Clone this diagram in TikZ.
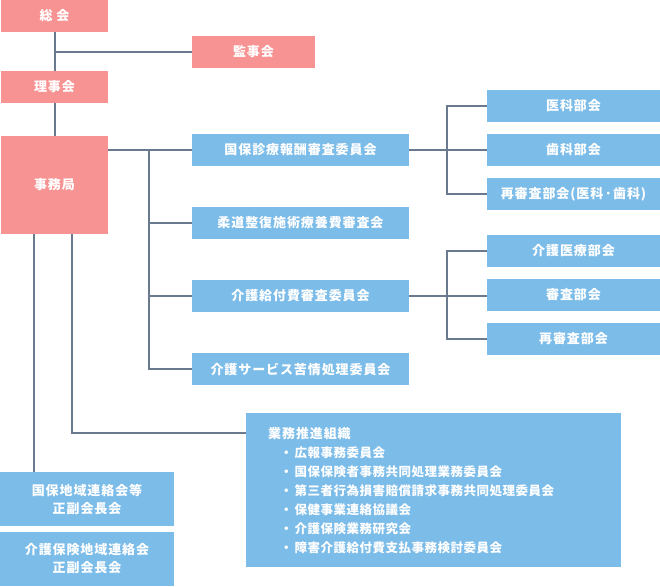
\documentclass[tikz,border=0pt]{standalone}
\usepackage{fontspec}
\newfontfamily\jpfont[LetterSpace=7]{Noto Sans CJK JP}
\newfontfamily\jplist[LetterSpace=4]{Noto Sans CJK JP}

\definecolor{boxpink}{HTML}{F79392}
\definecolor{boxblue}{HTML}{7CBCE9}
\definecolor{linegray}{HTML}{6A7A8E}

\tikzset{
  orgbox/.style={inner sep=0pt, text=white, align=center,
    font=\jpfont\bfseries\fontsize{13}{18}\selectfont},
  pinkbox/.style={orgbox, fill=boxpink, minimum width=107pt, minimum height=32pt},
  bluebox/.style={orgbox, fill=boxblue},
  midbox/.style={bluebox, minimum width=217pt, minimum height=32pt},
  subbox/.style={bluebox, minimum width=173pt, minimum height=32pt},
  areabox/.style={bluebox, minimum width=174pt, minimum height=54pt},
  link/.style={draw=linegray, line width=2pt},
}
\newcommand{\gyomuitem}[1]{\hspace*{12pt}{\jplist\bfseries\fontsize{12.5}{19}\selectfont ・\hspace{2pt}#1}}

\begin{document}
\begin{tikzpicture}[x=1pt, y=-1pt]
    \useasboundingbox (0,0) rectangle (660,586);

    % Top of the organisation
    \node[pinkbox] (soukai) at (54.5,16) {総 会};
    \node[pinkbox, minimum width=123pt] (kanjikai) at (253.5,52) {監事会};
    \node[pinkbox] (rijikai) at (54.5,87) {理事会};
    \node[pinkbox, minimum height=98pt] (jimukyoku) at (54.5,185) {事務局};

    % Committees
    \node[midbox] (kokuho) at (300.5,150) {国保診療報酬審査委員会};
    \node[midbox] (judo) at (300.5,223) {柔道整復施術療養費審査会};
    \node[midbox] (kaigokyufu) at (300.5,296) {介護給付費審査委員会};
    \node[midbox] (kaigoservice) at (300.5,369) {介護サービス苦情処理委員会};

    % Sections
    \node[subbox] (ika) at (573.5,106) {医科部会};
    \node[subbox] (shika) at (573.5,150) {歯科部会};
    \node[subbox] (saishinsa) at (573.5,194) {再審査部会(医科·歯科)};
    \node[subbox] (kaigoiryo) at (573.5,251) {介護医療部会};
    \node[subbox] (shinsa) at (573.5,295) {審査部会};
    \node[subbox] (saishinsab) at (573.5,339) {再審査部会};

    % Regional meetings and promotion bodies
    \node[areabox] (renraku) at (87,499) {国保地域連絡会等\\正副会長会};
    \node[areabox] (kaigorenraku) at (87,559) {介護保険地域連絡会\\正副会長会};
    \node[bluebox, anchor=north west, minimum width=375pt, minimum height=154pt,
          text width=331pt, inner xsep=22pt, align=left,
          font=\jpfont\bfseries\fontsize{13}{19}\selectfont] (gyomu) at (246,413)
        {業務推進組織\\
         \gyomuitem{広報事務委員会}\\
         \gyomuitem{国保保険者事務共同処理業務委員会}\\
         \gyomuitem{第三者行為損害賠償請求事務共同処理委員会}\\
         \gyomuitem{保健事業連絡協議会}\\
         \gyomuitem{介護保険業務研究会}\\
         \gyomuitem{障害介護給付費支払事務検討委員会}};

    % Connectors
    \draw[link] (soukai) -- (rijikai);
    \draw[link] (rijikai) -- (jimukyoku);
    \draw[link] (soukai.south |- kanjikai.west) -- (kanjikai.west);

    \coordinate (trunk) at (149,150);
    \draw[link] (jimukyoku.east |- kokuho.west) -- (kokuho.west);
    \draw[link] (trunk) |- (kaigoservice.west);
    \foreach \n in {judo, kaigokyufu}
        \draw[link] (trunk |- \n.west) -- (\n.west);

    \coordinate (subA) at (447,150);
    \draw[link] (kokuho.east) -- (shika.west);
    \draw[link] (ika.west) -| (subA) |- (saishinsa.west);

    \coordinate (subB) at (447,296);
    \draw[link] (kaigokyufu.east) -- (subB -| shinsa.west);
    \draw[link] (kaigoiryo.west) -| (subB) |- (saishinsab.west);

    \coordinate (legA) at (34,234);
    \coordinate (legB) at (72,234);
    \coordinate (gyomuin) at (246,433);
    \draw[link] (legA) -- (legA |- renraku.north);
    \draw[link] (legB) |- (gyomuin);
\end{tikzpicture}
\end{document}
